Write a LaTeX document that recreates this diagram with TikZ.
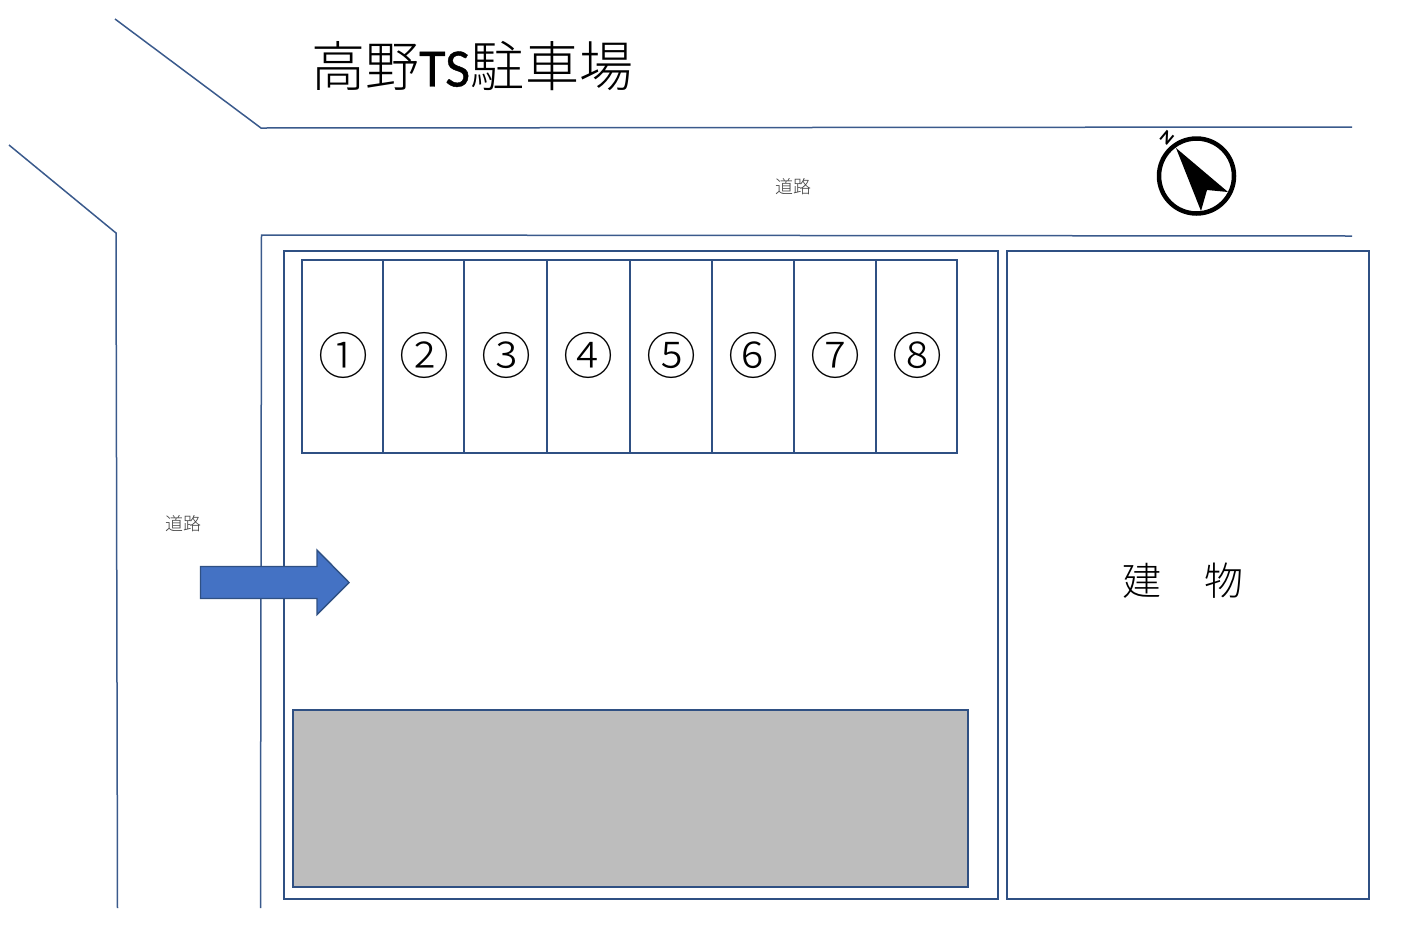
\documentclass[tikz,border=0pt]{standalone}
\usepackage{fontspec}
\setmainfont{Carlito}
\newfontfamily\cjk{Noto Sans CJK JP Light}
\newfontfamily\latinhead{Carlito}[FakeBold=0.8]
\definecolor{ln}{HTML}{2F5083}
\definecolor{ln2}{HTML}{3A5A8C}
\definecolor{arrowfill}{HTML}{4472C4}
\definecolor{grayfill}{HTML}{BDBDBD}
\tikzset{
  road/.style={draw=ln2,line width=1.5pt},
  plot/.style={draw=ln,line width=2pt,rectangle,inner sep=0pt,outer sep=0pt,anchor=north west},
  slotbox/.style={draw=ln,line width=2pt,rectangle,inner sep=0pt,outer sep=0pt,minimum height=193pt,anchor=north west},
  slotnum/.style={font=\fontsize{50}{50}\selectfont\cjk,inner sep=0pt},
  roadlabel/.style={font=\fontsize{18}{18}\selectfont\cjk,text=black!75,inner sep=0pt},
}
\begin{document}
\begin{tikzpicture}[x=1pt,y=-1pt]
\useasboundingbox (0,0) rectangle (1401,930);
% roads
\coordinate (r1a) at (115,19); \coordinate (r1b) at (261,128); \coordinate (r1c) at (1352,127);
\coordinate (r2a) at (9,145); \coordinate (r2b) at (116,233); \coordinate (r2c) at (117.5,908);
\coordinate (r3a) at (260.5,908); \coordinate (r3b) at (261.5,235); \coordinate (r3c) at (1352,236);
\draw[road] (r1a) -- (r1b) -- (r1c);
\draw[road] (r2a) -- (r2b) -- (r2c);
\draw[road] (r3a) -- (r3b) -- (r3c);
% plots
\node[plot,minimum width=714pt,minimum height=648pt] (lot) at (284,251) {};
\node[plot,minimum width=362pt,minimum height=648pt] (bldg) at (1007,251) {};
\node[plot,fill=grayfill,minimum width=675pt,minimum height=177pt] (gray) at (293,710) {};
% slots
\node[slotbox,minimum width=81pt] (s1) at (302,260) {};
\node[slotbox,minimum width=81pt] (s2) at (383,260) {};
\node[slotbox,minimum width=83pt] (s3) at (464,260) {};
\node[slotbox,minimum width=83pt] (s4) at (547,260) {};
\node[slotbox,minimum width=82pt] (s5) at (630,260) {};
\node[slotbox,minimum width=82pt] (s6) at (712,260) {};
\node[slotbox,minimum width=82pt] (s7) at (794,260) {};
\node[slotbox,minimum width=81pt] (s8) at (876,260) {};
\node[slotnum] (n1) at (343,355.5) {①};
\node[slotnum] (n2) at (424,355.5) {②};
\node[slotnum] (n3) at (506,355.5) {③};
\node[slotnum] (n4) at (588,355.5) {④};
\node[slotnum] (n5) at (671,355.5) {⑤};
\node[slotnum] (n6) at (753,355.5) {⑥};
\node[slotnum] (n7) at (835,355.5) {⑦};
\node[slotnum] (n8) at (917,355.5) {⑧};
% labels
\node[inner sep=0pt,anchor=west] (title) at (311,66) {\fontsize{54}{54}\selectfont{\cjk 高野}{\fontsize{54}{54}\selectfont\latinhead TS}{\cjk 駐}\hspace{1pt}{\cjk 車}{\cjk 場}};
\node[roadlabel] (l1) at (793.5,187) {道路};
\node[roadlabel] (l2) at (183.5,524) {道路};
\node[inner sep=0pt,font=\fontsize{39}{39}\selectfont\cjk] (b) at (1183,581) {建\hspace{1.1em}物};
% entry arrow
\draw[draw=ln,fill=arrowfill,line width=1.4pt] (200.5,566.5) -- (317,566.5) -- (317,550) -- (349,582.5) -- (317,614.5) -- (317,598.5) -- (200.5,598.5) -- cycle;
% compass
\node[circle,draw=black,line width=4.5pt,minimum size=75pt,inner sep=0pt,outer sep=0pt] (comp) at (1196.5,176) {};
\fill[black] (1176,148) -- (1228,192) -- (1207,190) -- (1201,211) -- cycle;
\node[font=\bfseries\fontsize{18}{18}\selectfont,rotate=-40,inner sep=0pt] (north) at (1167,138) {N};
\end{tikzpicture}
\end{document}
